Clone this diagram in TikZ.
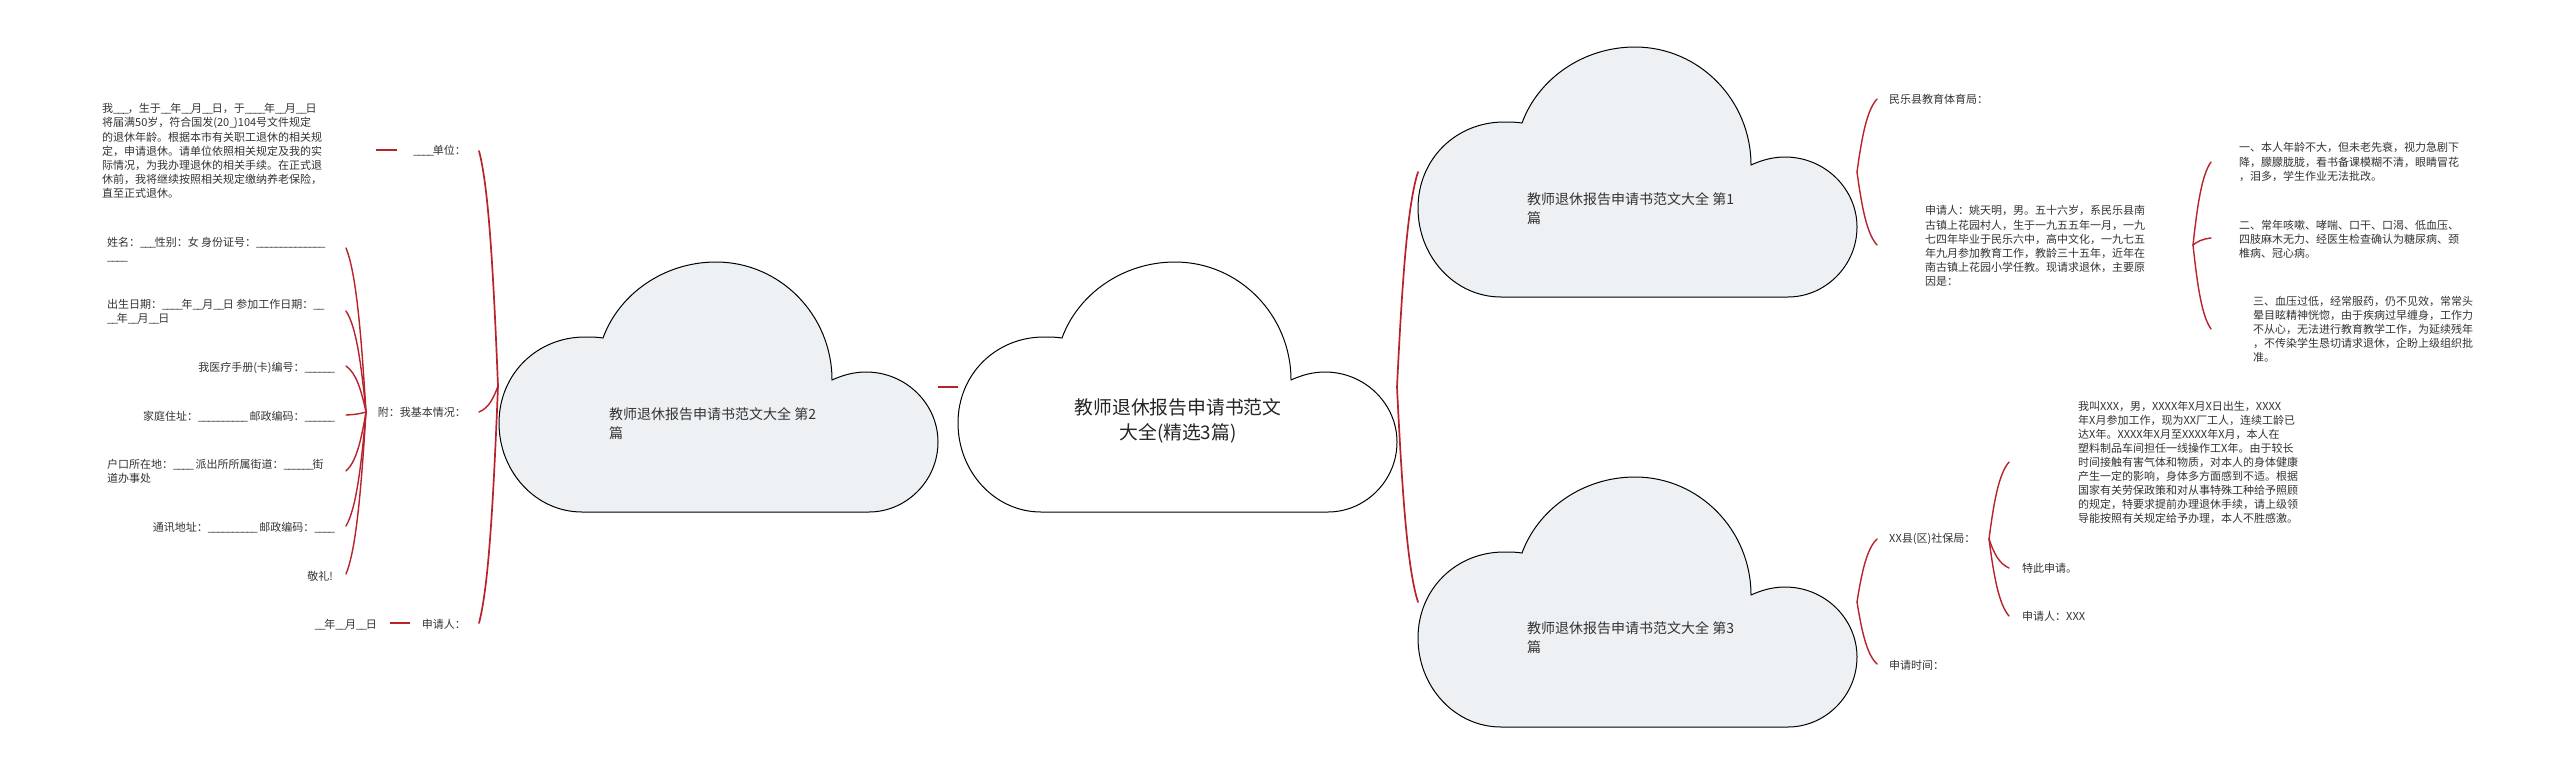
\documentclass[tikz,border=0pt]{standalone}
\usepackage{fontspec}
\setmainfont{Noto Sans CJK SC}
\usetikzlibrary{calc}
\definecolor{linkred}{HTML}{B8222C}
\definecolor{cloudfill}{HTML}{EEF1F4}
\definecolor{inktext}{HTML}{333333}
\renewcommand{\_}{\textunderscore\kern-1.3pt\relax}
\tikzset{
  small/.style={inner sep=0pt,text=inktext,align=left,font=\fontsize{11}{14.1}\selectfont},
  smallr/.style={small,anchor=east,align=right},
  smalll/.style={small,anchor=west},
  cloudtext/.style={inner sep=0pt,anchor=west,align=left,text=inktext,font=\fontsize{14}{19}\selectfont},
  maintext/.style={inner sep=0pt,align=center,text=black!85,font=\fontsize{18.8}{25}\selectfont},
  link/.style={draw=linkred,line width=1.4pt,line cap=round},
  biglink/.style={draw=linkred,line width=1.7pt,line cap=round},
  dashlink/.style={draw=linkred,line width=2.4pt},
  cloudline/.style={draw=black,line width=1pt,line join=miter}
}
\newcommand{\cloudat}[3]{%
  \begin{scope}[shift={(#1,#2)}]
  \path[cloudline,fill=#3] (83,250) .. controls (37,250) and (0,210) .. (0,161)
    .. controls (0,112) and (38,75) .. (86,75)
    .. controls (92,75) and (98,75) .. (104,76)
    .. controls (120,32) and (165,0) .. (217,0)
    .. controls (281,0) and (333,53) .. (333,118)
    .. controls (344,113) and (355,110) .. (367,110)
    .. controls (407,110) and (439,142) .. (439,180)
    .. controls (439,219) and (407,250) .. (370,250) -- cycle;
  \end{scope}}
\newcommand{\bracelink}[3][link]{%
  \draw[#1] let \p1=(#2),\p2=(#3) in (#2)
    .. controls ({\x1+0.25*(\x2-\x1)},{\y1+0.5*(\y2-\y1)})
    and ({\x1+0.5*(\x2-\x1)},{\y1+0.85*(\y2-\y1)}) .. (#3);}
\begin{document}
\begin{tikzpicture}[x=1pt,y=-1pt]
\useasboundingbox[fill=white] (0,0) rectangle (2560,774);
% clouds
\cloudat{958}{262}{white}
\cloudat{499}{262}{cloudfill}
\cloudat{1418}{47}{cloudfill}
\cloudat{1418}{477}{cloudfill}
\node[maintext] (main) at (1178,421) {教师退休报告申请书范文\\大全(精选3篇)};
\node[cloudtext] (c2) at (609,423.5) {教师退休报告申请书范文大全 第2\\篇};
\node[cloudtext] (c1) at (1527,209) {教师退休报告申请书范文大全 第1\\篇};
\node[cloudtext] (c3) at (1527,638) {教师退休报告申请书范文大全 第3\\篇};
% left texts
\node[smalll] (t1) at (102,151) {我\_\_\_，生于\_\_年\_\_月\_\_日，于\_\_\_\_年\_\_月\_\_日\\将届满50岁，符合国发(20\_)104号文件规定\\的退休年龄。根据本市有关职工退休的相关规\\定，申请退休。请单位依照相关规定及我的实\\际情况，为我办理退休的相关手续。在正式退\\休前，我将继续按照相关规定缴纳养老保险，\\直至正式退休。};
\node[smallr] (unit) at (466,151) {\_\_\_\_单位：};
\node[smallr] (attach) at (466,412) {附：我基本情况：};
\node[smallr] (appl) at (466,624) {申请人：};
\node[smalll] (name) at (107,249.5) {姓名：\_\_\_性别：女 身份证号：\_\_\_\_\_\_\_\_\_\_\_\_\_\_\\\_\_\_\_};
\node[smalll] (birth) at (107,312) {出生日期：\_\_\_\_年\_\_月\_\_日 参加工作日期：\_\_\\\_\_年\_\_月\_\_日};
\node[smallr] (card) at (334,368) {我医疗手册(卡)编号：\_\_\_\_\_\_};
\node[smallr] (home) at (334,417) {家庭住址：\_\_\_\_\_\_\_\_\_\_\kern3pt 邮政编码：\_\_\_\_\_\_};
\node[smalll] (hukou) at (107,471.5) {户口所在地：\_\_\_\_\kern3pt 派出所所属街道：\_\_\_\_\_\_街\\道办事处};
\node[smallr] (addr) at (334,528) {通讯地址：\_\_\_\_\_\_\_\_\_\_\kern3pt 邮政编码：\_\_\_\_};
\node[smallr] (salute) at (333,576) {敬礼!};
\node[smallr] (date) at (377,625) {\_\_年\_\_月\_\_日};
% right texts
\node[smalll] (bureau) at (1889,99) {民乐县教育体育局：};
\node[smalll] (appl1) at (1925,246) {申请人：姚天明，男。五十六岁，系民乐县南\\古镇上花园村人，生于一九五五年一月，一九\\七四年毕业于民乐六中，高中文化，一九七五\\年九月参加教育工作，教龄三十五年，近年在\\南古镇上花园小学任教。现请求退休，主要原\\因是：};
\node[smalll] (ra) at (2239,162) {一、本人年龄不大，但未老先衰，视力急剧下\\降，朦朦胧胧，看书备课模糊不清，眼睛冒花\\，泪多，学生作业无法批改。};
\node[smalll] (rb) at (2239,239) {二、常年咳嗽、哮喘、口干、口渴、低血压、\\四肢麻木无力、经医生检查确认为糖尿病、颈\\椎病、冠心病。};
\node[smalll] (rc) at (2253,329.5) {三、血压过低，经常服药，仍不见效，常常头\\晕目眩精神恍惚，由于疾病过早缠身，工作力\\不从心，无法进行教育教学工作，为延续残年\\，不传染学生恳切请求退休，企盼上级组织批\\准。};
\node[smalll] (social) at (1889,539) {XX县(区)社保局：};
\node[smalll] (apptime) at (1889,665) {申请时间：};
\node[smalll] (rd) at (2078,462.5) {我叫XXX，男，XXXX年X月X日出生，XXXX\\年X月参加工作，现为XX厂工人，连续工龄已\\达X年。XXXX年X月至XXXX年X月，本人在\\塑料制品车间担任一线操作工X年。由于较长\\时间接触有害气体和物质，对本人的身体健康\\产生一定的影响，身体多方面感到不适。根据\\国家有关劳保政策和对从事特殊工种给予照顾\\的规定，特要求提前办理退休手续，请上级领\\导能按照有关规定给予办理，本人不胜感激。};
\node[smalll] (re) at (2022,568) {特此申请。};
\node[smalll] (rf) at (2022,616) {申请人：XXX};
% connector end points
\coordinate (mainL) at (958,387);
\coordinate (mainR) at (1397,387);
\coordinate (c2R) at (938,387);
\coordinate (c2L) at (498,386);
\coordinate (c1L) at (1418,172);
\coordinate (c3L) at (1418,602);
\coordinate (c1R) at (1857,172);
\coordinate (c3R) at (1857,602);
\coordinate (e1) at (479,151);
\coordinate (e2) at (479,412);
\coordinate (e3) at (479,623);
\coordinate (u1) at (397,150);
\coordinate (u2) at (376,150);
\coordinate (a1) at (410,623);
\coordinate (a2) at (390,623);
\coordinate (s0) at (366,412);
\coordinate (s1) at (346,248);
\coordinate (s2) at (346,311);
\coordinate (s3) at (346,366);
\coordinate (s4) at (346,415);
\coordinate (s5) at (346,471);
\coordinate (s6) at (346,526);
\coordinate (s7) at (346,574);
\coordinate (f1) at (1877,99);
\coordinate (f2) at (1877,245);
\coordinate (f3) at (1877,539);
\coordinate (f4) at (1877,664);
\coordinate (g0) at (2193,245);
\coordinate (g1) at (2211,162);
\coordinate (g2) at (2211,238);
\coordinate (g3) at (2211,329);
\coordinate (h0) at (1989,539);
\coordinate (h1) at (2009,462);
\coordinate (h2) at (2009,568);
\coordinate (h3) at (2009,616);
% connectors
\draw[dashlink] (c2R) -- (mainL);
\draw[dashlink] (u1) -- (u2);
\draw[dashlink] (a1) -- (a2);
\bracelink[biglink]{mainR}{c1L}
\bracelink[biglink]{mainR}{c3L}
\bracelink[biglink]{c2L}{e1}
\bracelink[link]{c2L}{e2}
\bracelink[biglink]{c2L}{e3}
\foreach \q in {s1,s2,s3,s4,s5,s6,s7}{\bracelink{s0}{\q}}
\bracelink{c1R}{f1}
\bracelink{c1R}{f2}
\bracelink{c3R}{f3}
\bracelink{c3R}{f4}
\foreach \q in {g1,g2,g3}{\bracelink{g0}{\q}}
\foreach \q in {h1,h2,h3}{\bracelink{h0}{\q}}
\end{tikzpicture}
\end{document}
